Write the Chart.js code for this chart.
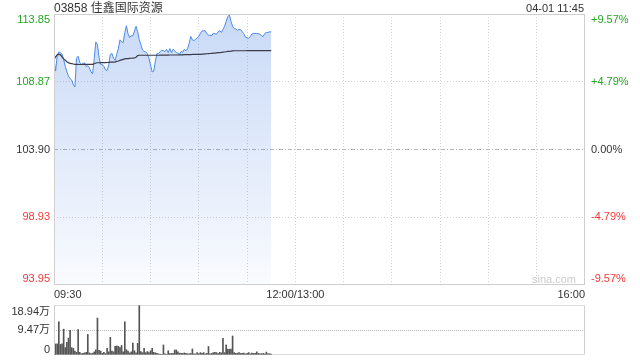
<!DOCTYPE html>
<html><head><meta charset="utf-8">
<script src="https://cdn.jsdelivr.net/npm/chart.js@4"></script>
<style>
html,body{margin:0;padding:0;background:#fff;}
#wrap{position:relative;width:640px;height:360px;overflow:hidden;font-family:Arial,"Liberation Sans",sans-serif;}
#c1{position:absolute;left:0;top:0;}
#c2{position:absolute;left:0;top:300px;}
.txt{position:absolute;white-space:nowrap;}
</style></head><body>
<div id="wrap">
<canvas id="c1" width="640" height="300"></canvas>
<canvas id="c2" width="640" height="60"></canvas>
<div class="txt" id="title" style="left:54px;top:0;font-size:12px;line-height:16px;color:#333;font-family:Arial,'Liberation Sans','Noto Sans CJK SC',sans-serif;"></div>
<div class="txt" id="stamp" style="right:56px;top:1px;font-size:11px;line-height:14px;color:#333;"></div>
<div class="txt" id="mark" style="left:532px;top:272px;font-size:11px;line-height:14px;color:#ccc;"></div>
</div>
<script>
// ---- text ----
const titleText = '03858 佳鑫国际资源';
const stampText = '04-01 11:45';
const watermark = 'sina.com';

// ---- axes ----
const priceMin = 93.95, priceMax = 113.85;
const pctMin = -9.57, pctMax = 9.57;
const priceTickValues = [93.95, 98.93, 103.90, 108.87, 113.85];
const priceTickLabels = ['93.95', '98.93', '103.90', '108.87', '113.85'];
const pctTickValues = [-9.57, -4.79, 0, 4.79, 9.57];
const pctTickLabels = ['-9.57%', '-4.79%', '0.00%', '+4.79%', '+9.57%'];
const timeTickValues = [0, 30, 60, 90, 120, 150, 180, 210, 240, 270, 300, 330];
const timeTickLabels = ['09:30', '', '', '', '', '12:00/13:00', '', '', '', '', '', '16:00'];
const volMax = 18.94;
const volTickValues = [0, 9.47, 18.94];
const volTickLabels = ['0', '9.47万', '18.94万'];

// ---- series (one value per trading minute from 09:30) ----
const prices = [
110.52,109.66,110.80,111.06,111.00,110.90,110.50,110.00,109.60,109.30,
109.10,109.00,108.65,108.50,110.60,110.75,110.30,110.15,110.20,110.27,
110.00,110.05,109.90,109.60,109.45,110.60,111.80,111.60,110.64,110.15,
110.15,110.00,109.75,109.70,110.10,110.90,110.95,110.60,110.45,110.90,
111.30,111.95,111.80,111.75,112.49,112.99,112.40,112.12,112.25,112.25,
112.60,112.95,112.55,111.95,111.60,111.20,111.10,111.06,110.95,110.60,
110.10,109.60,109.65,110.40,110.95,110.95,111.10,111.20,111.15,111.10,
111.25,111.02,111.31,111.02,111.26,111.15,111.02,110.97,110.89,111.10,
111.05,111.26,111.15,111.30,111.70,112.20,111.95,111.90,112.00,112.10,
112.20,112.45,112.60,112.62,112.62,112.40,112.30,112.28,112.25,112.44,
112.40,112.37,112.54,112.62,112.50,112.72,112.95,113.30,113.65,113.78,
113.30,112.95,112.78,112.76,112.65,112.72,112.70,112.55,112.40,112.15,
112.10,112.07,112.20,112.38,112.42,112.42,112.42,112.40,112.37,112.25,
112.20,112.42,112.49,112.50,112.54,112.54];
const avgPrices = [
110.52,110.70,110.85,110.90,110.85,110.70,110.55,110.45,110.35,110.28,
110.22,110.20,110.18,110.15,110.15,110.15,110.14,110.14,110.15,110.15,
110.15,110.15,110.15,110.15,110.15,110.20,110.25,110.27,110.27,110.28,
110.28,110.28,110.28,110.29,110.30,110.31,110.32,110.32,110.34,110.37,
110.40,110.44,110.48,110.52,110.55,110.57,110.58,110.59,110.60,110.61,
110.62,110.68,110.80,110.82,110.82,110.82,110.82,110.82,110.82,110.82,
110.82,110.82,110.82,110.82,110.82,110.82,110.83,110.83,110.83,110.83,
110.83,110.83,110.84,110.84,110.84,110.84,110.84,110.84,110.85,110.85,
110.85,110.86,110.86,110.86,110.87,110.87,110.88,110.88,110.88,110.89,
110.89,110.89,110.90,110.91,110.92,110.93,110.94,110.95,110.96,110.97,
110.98,111.00,111.01,111.02,111.03,111.05,111.06,111.08,111.10,111.11,
111.12,111.14,111.15,111.15,111.15,111.15,111.15,111.15,111.15,111.15,
111.16,111.16,111.16,111.16,111.16,111.16,111.16,111.16,111.16,111.16,
111.16,111.16,111.16,111.16,111.16,111.16];
const volumes = [ // 万
11.5,4.2,4.2,12.6,4.0,4.2,9.8,2.8,4.8,6.4,
9.3,2.8,2.5,1.5,1.0,9.6,1.0,0.5,0.6,0.8,
1.0,7.8,0.8,0.5,0.7,1.2,2.0,14.0,1.8,1.5,
0.6,1.0,0.5,2.5,1.2,6.7,1.5,1.2,3.3,3.4,
3.3,2.8,3.6,1.2,12.6,2.0,1.5,0.8,1.2,4.5,
1.6,0.8,4.4,18.94,1.3,0.9,2.5,0.9,1.3,0.9,
1.6,2.5,1.0,0.8,0.6,0.4,0.3,0.2,3.8,0.4,
0.3,1.6,0.5,0.6,0.6,1.9,1.9,1.2,0.7,0.6,
0.6,0.8,0.6,0.5,0.4,0.6,2.3,0.4,0.4,0.9,
0.5,0.9,0.6,0.9,0.4,0.6,3.2,0.4,0.6,0.9,
1.0,0.9,0.5,1.0,0.8,6.3,0.9,3.8,2.2,2.2,
2.2,7.2,0.9,0.6,0.7,0.9,0.6,0.6,0.7,0.4,
0.6,0.9,0.4,0.7,0.6,0.6,1.2,0.6,0.4,0.5,
0.6,0.4,1.1,0.4,0.5,0.3];

// ---- styles ----
const FONT = {family: "Arial, 'Liberation Sans', 'Noto Sans CJK SC', sans-serif", size: 11};
const GREEN = '#25a525', RED = '#f03a3a', DARK = '#333';
const priceColors = [RED, RED, DARK, GREEN, GREEN];
const MAIN_H = 270, VOL_H = 50;      // plot heights in px
const LABEL_INSET = 6;               // edge labels pushed inside the plot

document.getElementById('title').textContent = titleText;
document.getElementById('stamp').textContent = stampText;
document.getElementById('mark').textContent = watermark;

function insetTicks(values, min, max, h, topPx, botPx) {
  const k = (max - min) / h;
  return values.map((v, i) => i === 0 ? v + botPx * k : (i === values.length - 1 ? v - topPx * k : v));
}
function noPad(s) { s.paddingTop = 0; s.paddingBottom = 0; s.paddingLeft = 0; s.paddingRight = 0; }

const frameMain = {
  id: 'frameMain',
  afterDraw(chart) {
    const a = chart.chartArea, c = chart.ctx;
    c.save();
    c.strokeStyle = '#cfcfcf'; c.lineWidth = 1;
    const x0 = Math.round(a.left) + 0.5, x1 = Math.round(a.right) - 0.5;
    const y0 = Math.round(a.top) + 0.5, y1 = Math.round(a.bottom) - 0.5;
    c.strokeRect(x0, y0, x1 - x0, y1 - y0);
    c.restore();
  }
};
const frameVol = {
  id: 'frameVol',
  afterDraw(chart) {
    const a = chart.chartArea, c = chart.ctx;
    const x0 = Math.round(a.left) + 0.5, x1 = Math.round(a.right) - 0.5;
    const y0 = Math.round(a.top) + 0.5, y1 = Math.round(a.bottom) - 0.5;
    c.save();
    c.lineWidth = 1;
    c.strokeStyle = '#cfcfcf';
    c.beginPath(); c.moveTo(x0, y0); c.lineTo(x0, y1); c.moveTo(x1, y0); c.lineTo(x1, y1); c.stroke();
    c.strokeStyle = '#b8b8b8'; c.setLineDash([1, 1]);
    c.beginPath(); c.moveTo(x0, y0); c.lineTo(x1, y0); c.moveTo(x0, y1); c.lineTo(x1, y1); c.stroke();
    c.restore();
  }
};

new Chart(document.getElementById('c1'), {
  type: 'line',
  data: {
    datasets: [
      {
        label: 'avg',
        data: avgPrices.map((v, i) => ({x: i, y: v})),
        borderColor: '#3b3b4a', borderWidth: 1.2, pointRadius: 0, fill: false, tension: 0
      },
      {
        label: 'price',
        data: prices.map((v, i) => ({x: i, y: v})),
        borderColor: '#4a8ae8', borderWidth: 1, pointRadius: 0, tension: 0,
        fill: 'start',
        backgroundColor(ctx) {
          const a = ctx.chart.chartArea;
          if (!a) return 'rgba(74,138,232,0.2)';
          const g = ctx.chart.ctx.createLinearGradient(0, a.top, 0, a.bottom);
          g.addColorStop(0, 'rgba(74,130,228,0.30)');
          g.addColorStop(1, 'rgba(74,130,228,0.03)');
          return g;
        }
      }
    ]
  },
  options: {
    responsive: false, animation: false, events: [],
    layout: {padding: {top: 14, left: 0, right: 0, bottom: 0}},
    plugins: {legend: {display: false}, tooltip: {enabled: false}},
    scales: {
      x: {
        type: 'linear', min: 0, max: 330, offset: false,
        afterBuildTicks(s) { s.ticks = timeTickValues.map(v => ({value: v})); },
        afterFit(s) { s.height = 15; noPad(s); },
        ticks: {callback: (v, i) => timeTickLabels[i], align: 'inner', maxRotation: 0, autoSkip: false,
                padding: 3, color: DARK, font: FONT},
        grid: {drawTicks: false,
               color: c => (c.index === 0 || c.index === timeTickValues.length - 1) ? 'rgba(0,0,0,0)' : '#d2d2d2'},
        border: {display: false, dash: [1, 2]}
      },
      y: {
        position: 'left', min: priceMin, max: priceMax,
        afterBuildTicks(s) { s.ticks = insetTicks(priceTickValues, priceMin, priceMax, MAIN_H, LABEL_INSET, LABEL_INSET).map(v => ({value: v})); },
        afterFit(s) { s.width = 54; noPad(s); },
        ticks: {callback: (v, i) => priceTickLabels[i], color: c => priceColors[c.index], font: FONT, padding: 4, autoSkip: false},
        grid: {drawTicks: false,
               color: c => (c.index === 0 || c.index === 4) ? 'rgba(0,0,0,0)' : (c.index === 2 ? '#b5b5b5' : '#d2d2d2')},
        border: {display: false, dash: c => c.index === 2 ? [4, 2, 1, 2] : [1, 2]}
      },
      y2: {
        position: 'right', min: pctMin, max: pctMax,
        afterBuildTicks(s) { s.ticks = insetTicks(pctTickValues, pctMin, pctMax, MAIN_H, LABEL_INSET, LABEL_INSET).map(v => ({value: v})); },
        afterFit(s) { s.width = 55; noPad(s); },
        ticks: {callback: (v, i) => pctTickLabels[i], color: c => priceColors[c.index], font: FONT, padding: 6, autoSkip: false},
        grid: {display: false, drawTicks: false},
        border: {display: false}
      }
    }
  },
  plugins: [frameMain]
});

new Chart(document.getElementById('c2'), {
  type: 'bar',
  data: {
    datasets: [{
      label: 'vol',
      data: volumes.map((v, i) => ({x: i, y: v})),
      backgroundColor: '#555', borderWidth: 0, barThickness: 1
    }]
  },
  options: {
    responsive: false, animation: false, events: [],
    layout: {padding: {top: 5, bottom: 5, left: 0, right: 55}},
    plugins: {legend: {display: false}, tooltip: {enabled: false}},
    scales: {
      x: {type: 'linear', min: 0, max: 330, offset: false, display: false, grid: {offset: false}},
      y: {
        position: 'left', min: 0, max: volMax,
        afterBuildTicks(s) { s.ticks = insetTicks(volTickValues, 0, volMax, VOL_H, 7, 5).map(v => ({value: v})); },
        afterFit(s) { s.width = 54; noPad(s); },
        ticks: {callback: (v, i) => volTickLabels[i], color: DARK, font: FONT, padding: 4, autoSkip: false},
        grid: {drawTicks: false, color: c => c.index === 1 ? '#b8b8b8' : 'rgba(0,0,0,0)'},
        border: {display: false, dash: [1, 1]}
      }
    }
  },
  plugins: [frameVol]
});
</script>
</body></html>
